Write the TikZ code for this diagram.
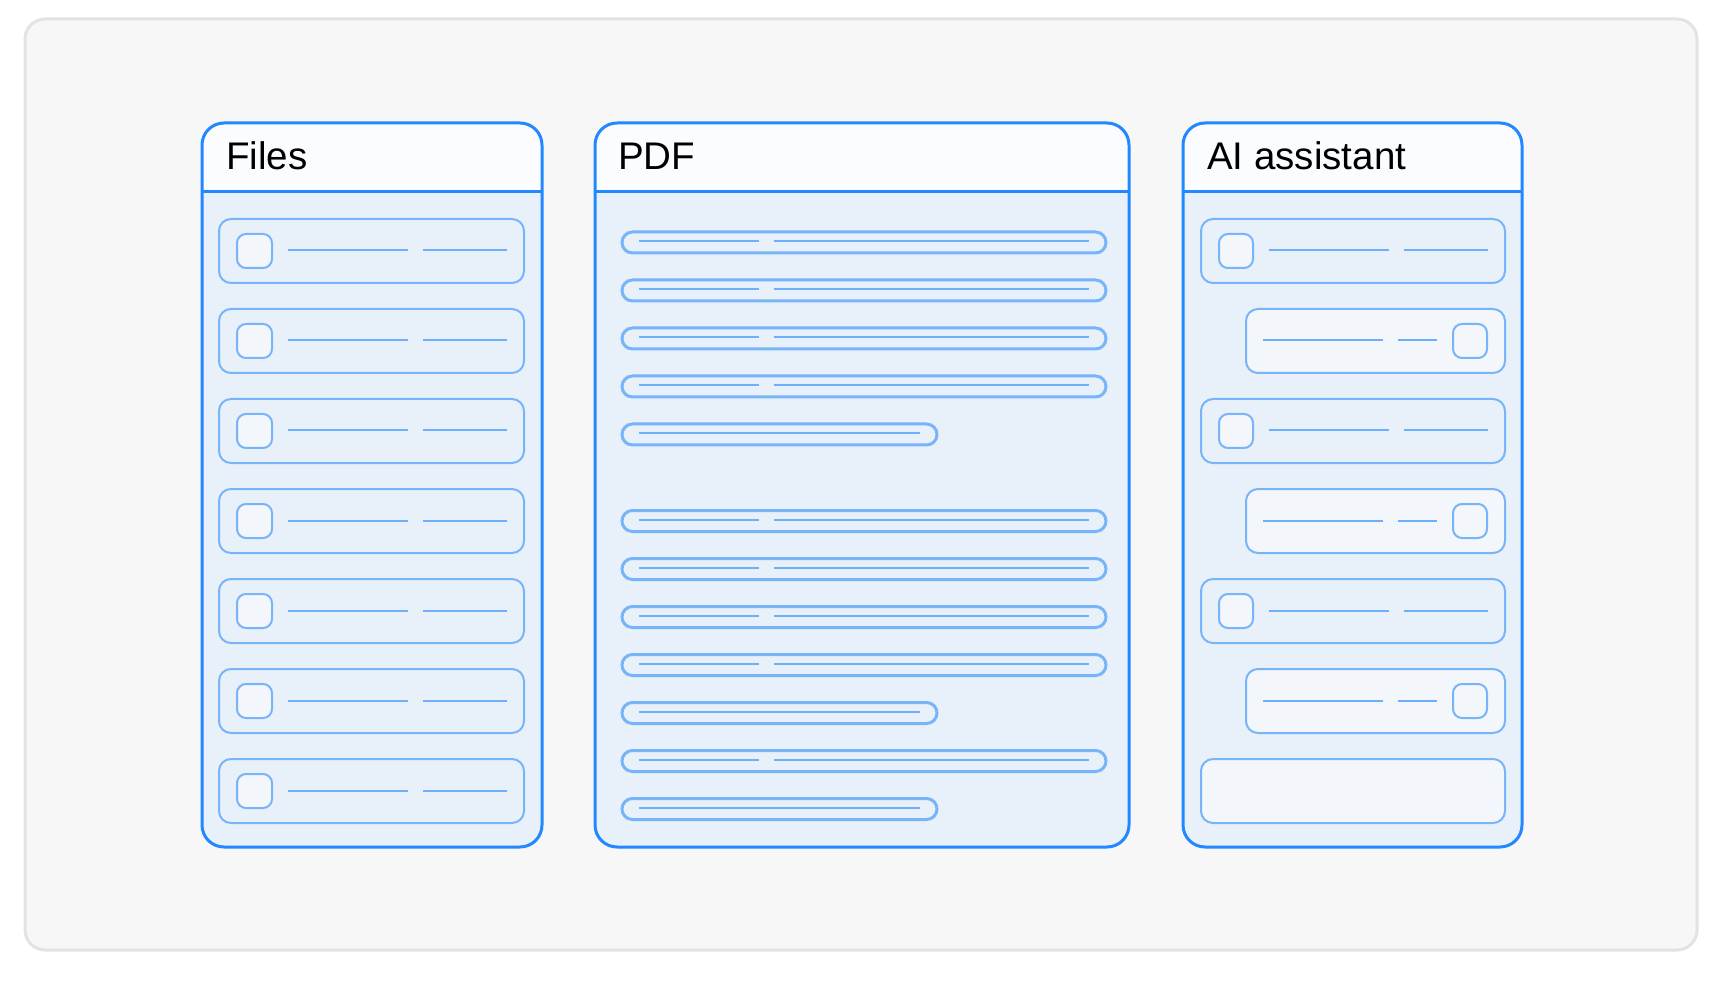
\documentclass[tikz,border=0pt]{standalone}
\usepackage{fontspec}
\setmainfont{Liberation Sans}
\definecolor{frameblue}{RGB}{33,136,255}
\definecolor{bodyblue}{RGB}{232,240,250}
\definecolor{headwhite}{RGB}{250,252,255}
\definecolor{itemblue}{RGB}{120,180,250}
\definecolor{lineblue}{RGB}{108,176,252}
\definecolor{lightfill}{RGB}{243,247,252}
\definecolor{pagegray}{RGB}{247,247,247}
\definecolor{pageedge}{RGB}{226,226,232}
\tikzset{
  panelbox/.style={draw=frameblue, line width=3pt, rounded corners=22pt},
  itembox/.style={draw=itemblue, line width=2pt, rounded corners=12pt},
  lightbox/.style={itembox, fill=lightfill},
  iconbox/.style={draw=itemblue, line width=2pt, fill=lightfill, rounded corners=9pt},
  pillbox/.style={draw=itemblue, line width=3pt, rounded corners=10.5pt},
  textline/.style={draw=lineblue, line width=2pt},
  paneltitle/.style={anchor=base west, inner sep=0pt, font=\fontsize{38.5}{46}\selectfont}
}

\begin{document}
\begin{tikzpicture}[x=1pt, y=-1pt]
    \useasboundingbox (0,0) rectangle (1722,981);
    % page card
    \draw[fill=pagegray, draw=pageedge, line width=3pt, rounded corners=20pt] (25,19) rectangle (1697,950);

    % three panels: body, header, divider, frame
    \foreach \xa/\xb in {202/542, 595/1129, 1183/1522}{
        \fill[bodyblue, rounded corners=22pt] (\xa,123) rectangle (\xb,847);
        \begin{scope}
            \clip[rounded corners=22pt] (\xa,123) rectangle (\xb,847);
            \fill[headwhite] (\xa,123) rectangle (\xb,192);
        \end{scope}
        \draw[frameblue, line width=3pt] (\xa,192) -- (\xb,192);
        \draw[panelbox] (\xa,123) rectangle (\xb,847);
    }
    \node[paneltitle] (files) at (226,170) {Files};
    \node[paneltitle] (pdf) at (618,170) {PDF};
    \node[paneltitle] (assistant) at (1207,170) {AI assistant};

    % files list
    \foreach \y in {219,309,...,759}{
        \draw[itembox] (219,\y) rectangle (524,\y+64);
        \draw[iconbox] (237,\y+15) rectangle (272,\y+49);
        \draw[textline] (288,\y+31.5) -- (408,\y+31.5);
        \draw[textline] (423,\y+31.5) -- (507,\y+31.5);
    }

    % pdf text lines
    \foreach \y in {242.5,290.5,338.5,386.5,521,569,617,665,761}{
        \draw[pillbox] (622,\y-10.5) rectangle (1106,\y+10.5);
        \draw[textline] (639,\y-1) -- (759,\y-1);
        \draw[textline] (774,\y-1) -- (1089,\y-1);
    }
    \foreach \y in {434.5,713,809}{
        \draw[pillbox] (622,\y-10.5) rectangle (937,\y+10.5);
        \draw[textline] (639,\y-1) -- (920,\y-1);
    }

    % assistant chat
    \foreach \y in {219,399,579}{
        \draw[itembox] (1201,\y) rectangle (1505,\y+64);
        \draw[iconbox] (1219,\y+15) rectangle (1253,\y+49);
        \draw[textline] (1269,\y+31.5) -- (1389,\y+31.5);
        \draw[textline] (1404,\y+31.5) -- (1488,\y+31.5);
    }
    \foreach \y in {309,489,669}{
        \draw[lightbox] (1246,\y) rectangle (1505,\y+64);
        \draw[textline] (1263,\y+31.5) -- (1383,\y+31.5);
        \draw[textline] (1398,\y+31.5) -- (1437,\y+31.5);
        \draw[iconbox] (1453,\y+15) rectangle (1487,\y+49);
    }
    \draw[lightbox] (1201,759) rectangle (1505,823);
\end{tikzpicture}
\end{document}
